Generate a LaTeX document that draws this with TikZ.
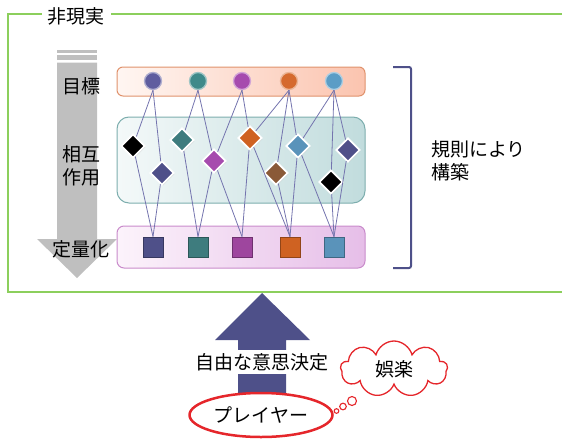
\documentclass[tikz,border=0pt]{standalone}
\usepackage{fontspec}
\setmainfont{Noto Sans CJK JP}
\usetikzlibrary{shapes.geometric,shapes.symbols,shadows}

\definecolor{frameGreen}{HTML}{8CCF5C}
\definecolor{arrowGray}{HTML}{BFBFBF}
\definecolor{pushBlue}{HTML}{4E5089}
\definecolor{linkBlue}{HTML}{7474AE}
\definecolor{ptRed}{HTML}{E5262B}
\definecolor{goalL}{HTML}{FFF6F2}
\definecolor{goalR}{HTML}{FBC4AF}
\definecolor{goalEdge}{HTML}{E0926C}
\definecolor{interL}{HTML}{F4F9F9}
\definecolor{interR}{HTML}{C1DCDD}
\definecolor{interEdge}{HTML}{7DAEAE}
\definecolor{qtyL}{HTML}{FCF3FB}
\definecolor{qtyR}{HTML}{E6BEE8}
\definecolor{qtyEdge}{HTML}{C98BCB}
\definecolor{cA}{HTML}{5F5D9F}
\definecolor{cB}{HTML}{3F8A8A}
\definecolor{cC}{HTML}{A64BAE}
\definecolor{cD}{HTML}{D56A2E}
\definecolor{cE}{HTML}{5B9DC6}
\definecolor{sqA}{HTML}{4F5089}
\definecolor{sqB}{HTML}{3E7C7E}
\definecolor{sqC}{HTML}{9E469E}
\definecolor{sqD}{HTML}{CF6222}
\definecolor{sqE}{HTML}{5A93BA}
\definecolor{dBrown}{HTML}{8A5A38}

\begin{document}
\begin{tikzpicture}[x=1pt,y=-1pt,
    font=\fontsize{19}{23}\selectfont,
    goal/.style={circle,minimum size=17,inner sep=0,fill=#1,draw=#1!50!white,line width=1.3},
    inter/.style={diamond,minimum size=24,inner sep=0,fill=#1,draw=white,line width=1.7,
      drop shadow={shadow xshift=0.8pt,shadow yshift=-0.8pt,opacity=0.35}},
    qty/.style={rectangle,minimum size=20,inner sep=0,fill=#1,draw=#1!70!black,line width=0.8},
    link/.style={draw=linkBlue,line width=0.8}]
        \useasboundingbox (0,0) rectangle (562,442);
        % frame
        \draw[frameGreen,line width=2.6] (562,14)--(8,14)--(8,292)--(562,292);
        \node[fill=white,inner xsep=6,inner ysep=3] (unreal) at (76,16) {非現実};
        % gray arrow
        \fill[arrowGray] (57,50) rectangle (97,52.5);
        \fill[arrowGray] (57,55) rectangle (97,59.5);
        \fill[arrowGray] (57,62.5)--(97,62.5)--(97,239)--(117,239)--(77,278)--(37,239)--(57,239)--cycle;
        \node (goallabel) at (81,86) {目標};
        \node[align=center,inner sep=0] (interlabel) at (81,166) {相互\\作用};
        \node (qtylabel) at (81,249) {定量化};
        % bands
        \shade[draw=goalEdge,left color=goalL,right color=goalR,rounded corners=6,line width=1] (117,67) rectangle (365,96);
        \shade[draw=interEdge,left color=interL,right color=interR,rounded corners=12,line width=1] (117,117) rectangle (365,203);
        \shade[draw=qtyEdge,left color=qtyL,right color=qtyR,rounded corners=7,line width=1] (117,226) rectangle (365,268);
        % goals and quantities
        \foreach \i/\x/\c in {1/153/cA,2/198/cB,3/242/cC,4/289/cD,5/334/cE}
          \node[goal=\c] (c\i) at (\x,81) {};
        \foreach \i/\x/\c in {1/153/sqA,2/198/sqB,3/242/sqC,4/290/sqD,5/334/sqE}
          \node[qty=\c] (s\i) at (\x,247) {};
        % interactions
        \node[inter=black] (d1) at (133,146) {};
        \node[inter=sqA] (d2) at (162,173) {};
        \node[inter=sqB] (d3) at (182,140) {};
        \node[inter=cC] (d4) at (214,161) {};
        \node[inter=sqD] (d5) at (250,138) {};
        \node[inter=sqE] (d6) at (298,146) {};
        \node[inter=sqA] (d7) at (348,150) {};
        \node[inter=dBrown] (d8) at (276,173) {};
        \node[inter=black] (d9) at (331,182) {};
        \draw[link] (c1.south)--(d1); \draw[link] (c1.south)--(d2);
        \draw[link] (c2.south)--(d3); \draw[link] (c2.south)--(d4);
        \draw[link] (c3.south)--(d4); \draw[link] (c3.south)--(d5);
        \draw[link] (c4.south)--(d5); \draw[link] (c4.south)--(d8); \draw[link] (c4.south)--(d6);
        \draw[link] (c5.south)--(d6); \draw[link] (c5.south)--(d9); \draw[link] (c5.south)--(d7);
        \draw[link] (d1)--(s1.north); \draw[link] (d2)--(s1.north);
        \draw[link] (d3)--(s2.north); \draw[link] (d4)--(s2.north);
        \draw[link] (d4)--(s3.north); \draw[link] (d5)--(s3.north);
        \draw[link] (d5)--(s4.north); \draw[link] (d8)--(s4.north); \draw[link] (d6)--(s4.north);
        \draw[link] (d6)--(s5.north); \draw[link] (d9)--(s5.north); \draw[link] (d7)--(s5.north);
        % bracket
        \draw[pushBlue,line width=2,rounded corners=2] (393,67)--(411,67)--(411,268)--(393,268);
        \node[anchor=west,align=left,inner sep=0] (rules) at (431,161) {規則により\\構築};
        % player
        \fill[pushBlue] (238,395)--(238,340)--(215,340)--(262,293)--(310,340)--(286,340)--(286,395)--cycle;
        \node[fill=white,inner xsep=2,inner ysep=3] (choice) at (262,362) {自由な意思決定};
        \node[ellipse,draw=ptRed,line width=2.5,fill=white,minimum width=128,minimum height=44] (player) at (261,415) {プレイヤー};
        \node[cloud,draw=ptRed,line width=1.3,fill=white,cloud puffs=9,aspect=2,
              minimum width=107,minimum height=56,inner sep=0] (joy) at (394,369) {\raisebox{-4pt}{娯楽}};
        \draw[ptRed,line width=1.1] (352,401) circle[radius=4.5];
        \draw[ptRed,line width=1.1] (343,406.5) circle[radius=3.3];
        \draw[ptRed,line width=1.1] (336.5,411) circle[radius=2.3];
      \end{tikzpicture}
\end{document}
